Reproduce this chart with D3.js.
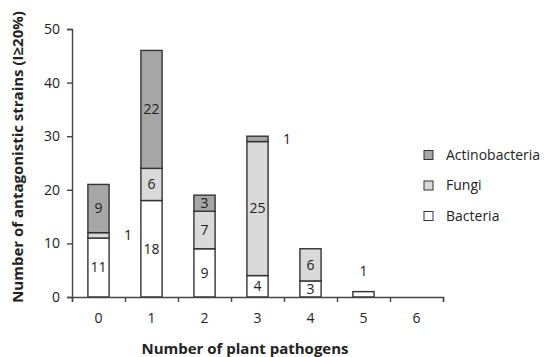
<!DOCTYPE html>
<html>
<head>
<meta charset="utf-8">
<script src="https://cdn.jsdelivr.net/npm/d3@7"></script>
<style>
  body { margin: 0; background: #fff; }
  text { font-family: "Open Sans", sans-serif; fill: #222; }
</style>
</head>
<body>
<div id="chart"></div>
<script>
// categories and series values
const categories = ["0", "1", "2", "3", "4", "5", "6"];
const bacteria = [11, 18, 9, 4, 3, 1, 0];
const fungi = [1, 6, 7, 25, 6, 0, 0];
const actinobacteria = [9, 22, 3, 1, 0, 0, 0];
const yTicks = [0, 10, 20, 30, 40, 50];

const series = [
  {name: "Bacteria", values: bacteria, color: "#ffffff"},
  {name: "Fungi", values: fungi, color: "#d9d9d9"},
  {name: "Actinobacteria", values: actinobacteria, color: "#a6a6a6"}
];

const W = 546, H = 357;
const margin = {top: 29, right: 103, bottom: 60, left: 72};
const fs = "14px";

const svg = d3.select("#chart").append("svg")
  .attr("width", W).attr("height", H);

const x = d3.scaleBand()
  .domain(categories)
  .range([margin.left, W - margin.right])
  .paddingInner(0.6).paddingOuter(0.3);

// tick positions sit on category boundaries
const xb = d3.scaleLinear().domain([0, categories.length]).range([margin.left, W - margin.right]);

const y = d3.scaleLinear().domain([0, 50]).range([H - margin.bottom, margin.top]);

// build stacked table
const table = categories.map((c, i) => {
  const row = {cat: c};
  series.forEach(s => row[s.name] = s.values[i]);
  return row;
});
const stack = d3.stack().keys(series.map(s => s.name))(table);

const bw = x.bandwidth();
const cx = c => xb(categories.indexOf(c) + 0.5);

stack.forEach((layer, li) => {
  svg.append("g").selectAll("rect")
    .data(layer.filter(d => d[1] - d[0] > 0))
    .enter().append("rect")
    .attr("x", d => cx(d.data.cat) - bw / 2)
    .attr("width", bw)
    .attr("y", d => y(d[1]))
    .attr("height", d => y(d[0]) - y(d[1]))
    .attr("fill", series[li].color)
    .attr("stroke", "#333")
    .attr("stroke-width", 1.4);
});

// value labels
stack.forEach((layer, li) => {
  layer.forEach(d => {
    const v = d[1] - d[0];
    if (v <= 0) return;
    let lx = cx(d.data.cat), ly = y((d[0] + d[1]) / 2);
    if (v === 1 && d.data.cat === "5") {
      ly = y(d[1]) - 21;
    } else if (v === 1) {
      lx = cx(d.data.cat) + bw / 2 + 19;
    }
    svg.append("text")
      .attr("x", lx).attr("y", ly)
      .attr("dy", "0.35em")
      .attr("text-anchor", "middle")
      .style("font-size", fs)
      .text(v);
  });
});

// axes
const yAxis = svg.append("g")
  .attr("transform", `translate(${margin.left},0)`)
  .call(d3.axisLeft(y).tickValues(yTicks).tickSize(5).tickPadding(7));

const xAxis = svg.append("g")
  .attr("transform", `translate(0,${H - margin.bottom})`)
  .call(d3.axisBottom(xb).tickValues(d3.range(categories.length + 1)).tickSize(5).tickFormat(""));

[yAxis, xAxis].forEach(a => {
  a.select(".domain").attr("stroke", "#444").attr("stroke-width", 1.4);
  a.selectAll(".tick line").attr("stroke", "#444").attr("stroke-width", 1.4);
  a.selectAll("text").style("font-size", fs).attr("fill", "#222")
    .style("font-family", "'Open Sans', sans-serif");
});

// category labels centred between ticks
svg.append("g").selectAll("text")
  .data(categories)
  .enter().append("text")
  .attr("x", d => cx(d))
  .attr("y", H - margin.bottom + 21)
  .attr("dy", "0.35em")
  .attr("text-anchor", "middle")
  .style("font-size", fs)
  .text(d => d);

// titles
svg.append("text")
  .attr("x", 245)
  .attr("y", 349)
  .attr("dy", "0.35em")
  .attr("text-anchor", "middle")
  .style("font-size", "15px")
  .style("font-weight", "bold")
  .text("Number of plant pathogens");

svg.append("text")
  .attr("transform", "translate(18,157) rotate(-90)")
  .attr("dy", "0.35em")
  .attr("text-anchor", "middle")
  .style("font-size", "15px")
  .style("font-weight", "bold")
  .text("Number of antagonistic strains (I≥20%)");

// legend
const legend = svg.append("g").selectAll("g")
  .data(series.slice().reverse())
  .enter().append("g")
  .attr("transform", (d, i) => `translate(424,${155 + i * 30.5})`);

legend.append("rect")
  .attr("x", 0).attr("y", -4.5)
  .attr("width", 9).attr("height", 9)
  .attr("fill", d => d.color)
  .attr("stroke", "#333")
  .attr("stroke-width", 1);

legend.append("text")
  .attr("x", 22).attr("y", 0)
  .attr("dy", "0.35em")
  .style("font-size", fs)
  .text(d => d.name);
</script>
</body>
</html>
